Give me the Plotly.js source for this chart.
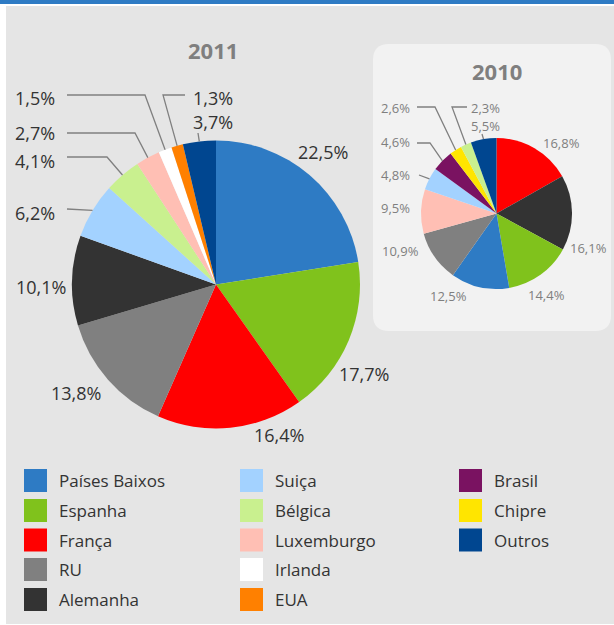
<!DOCTYPE html>
<html>
<head>
<meta charset="utf-8">
<script src="https://cdn.plot.ly/plotly-3.0.1.min.js"></script>
<style>html,body{margin:0;padding:0;background:#fff;}#chart{width:614px;height:625px;}</style>
</head>
<body>
<div id="chart"></div>
<script>
// ---------------- DATA ----------------
const labels2011 = ["Países Baixos","Espanha","França","RU","Alemanha","Suiça","Bélgica","Luxemburgo","Irlanda","EUA","Outros"];
const values2011 = [22.5,17.7,16.4,13.8,10.1,6.2,4.1,2.7,1.5,1.3,3.7];
const labels2010 = ["França","Alemanha","Espanha","Países Baixos","RU","Luxemburgo","Suiça","Brasil","Chipre","Bélgica","Outros"];
const values2010 = [16.8,16.1,14.4,12.5,10.9,9.5,4.8,4.6,2.6,2.3,5.5];
const legendCategories = ["Países Baixos","Espanha","França","RU","Alemanha","Suiça","Bélgica","Luxemburgo","Irlanda","EUA","Brasil","Chipre","Outros"];
const legendColours = ["#2e7bc4","#80c21c","#ff0000","#808080","#333333","#a3d2ff","#c9f08f","#ffbfb4","#ffffff","#ff8000","#7a1261","#ffe500","#004690"];
const titles = ["2011","2010"];

// ---------------- LAYOUT HELPERS ----------------
const W = 614, H = 625;
const X = px => px / W;
const Y = py => 1 - py / H;
const colourOf = {};
legendCategories.forEach((c, i) => colourOf[c] = legendColours[i]);
const fmt = v => v.toFixed(1).replace('.', ',') + '%';

// pie geometry (pixels)
const pies = [
  {labels: labels2011, values: values2011, cx: 216, cy: 284.5, r: 144,
   font: {family: "Open Sans", size: 18, color: "#333333"},
   title: {x: 213, y: 50},
   labelPos: [[323,152],[364,374],[279,435],[76,393],[41,287],[35,213],[35,161],[35,133],[35,98],[213,98],[213,122]],
   leaders: [ // [sliceIndex, startX, startY, elbowX|null]
     [8, 67, 95, 145], [9, 185, 95, 163], [10, 198, 133, null],
     [7, 67, 133, 135], [6, 67, 157, 107], [5, 67, 209, null]]},
  {labels: labels2010, values: values2010, cx: 496.5, cy: 213.5, r: 75.5,
   font: {family: "Open Sans", size: 13, color: "#7f7f7f"},
   title: {x: 497, y: 71},
   labelPos: [[561,143],[588,248],[546,295],[448,296],[400,251],[396,208],[396,175],[396,142],[396,108],[485,108],[485,126]],
   leaders: [
     [8, 417, 107, 435], [9, 467, 107, 452], [10, 482, 134, null],
     [7, 417, 143, 430], [6, 419, 175, null]]}
];

const traces = [];
const annotations = [];
const shapes = [];

// backgrounds
shapes.push({type: 'rect', xref: 'paper', yref: 'paper', x0: 0, x1: 1, y0: Y(0), y1: Y(4),
             fillcolor: '#2e7bc4', line: {width: 0}, layer: 'below'});
shapes.push({type: 'rect', xref: 'paper', yref: 'paper', x0: X(6), x1: 1, y0: Y(6), y1: Y(624),
             fillcolor: '#e5e5e5', line: {width: 0}, layer: 'below'});
// rounded panel behind 2010 pie
(function () {
  const x0 = 373, x1 = 611, y0 = 44, y1 = 331, rr = 16;
  const p = (x, y) => X(x) + ',' + Y(y);
  const path = 'M ' + p(x0 + rr, y0) + ' L ' + p(x1 - rr, y0) + ' Q ' + p(x1, y0) + ' ' + p(x1, y0 + rr) +
    ' L ' + p(x1, y1 - rr) + ' Q ' + p(x1, y1) + ' ' + p(x1 - rr, y1) +
    ' L ' + p(x0 + rr, y1) + ' Q ' + p(x0, y1) + ' ' + p(x0, y1 - rr) +
    ' L ' + p(x0, y0 + rr) + ' Q ' + p(x0, y0) + ' ' + p(x0 + rr, y0) + ' Z';
  shapes.push({type: 'path', xref: 'paper', yref: 'paper', path: path,
               fillcolor: '#f2f2f2', line: {width: 0}, layer: 'below'});
})();

pies.forEach((pie, k) => {
  traces.push({
    type: 'pie', labels: pie.labels, values: pie.values,
    marker: {colors: pie.labels.map(l => colourOf[l]), line: {width: 0}},
    sort: false, direction: 'clockwise', rotation: 0,
    textinfo: 'none', hoverinfo: 'none', showlegend: false,
    domain: {x: [X(pie.cx - pie.r), X(pie.cx + pie.r)], y: [Y(pie.cy + pie.r), Y(pie.cy - pie.r)]}
  });
  // title
  annotations.push({xref: 'paper', yref: 'paper', x: X(pie.title.x), y: Y(pie.title.y),
    xanchor: 'center', yanchor: 'middle', showarrow: false, text: '<b>' + titles[k] + '</b>',
    font: {family: 'Open Sans', size: 22, color: '#7f7f7f'}});
  // value labels
  const total = pie.values.reduce((a, b) => a + b, 0);
  const mids = [];
  let cum = 0;
  pie.values.forEach(v => { mids.push((cum + v / 2) / total * 2 * Math.PI); cum += v; });
  pie.values.forEach((v, i) => {
    annotations.push({xref: 'paper', yref: 'paper', x: X(pie.labelPos[i][0]), y: Y(pie.labelPos[i][1]),
      xanchor: 'center', yanchor: 'middle', showarrow: false, text: fmt(v), font: pie.font});
  });
  // leader lines
  pie.leaders.forEach(([i, sx, sy, ex]) => {
    const rx = pie.cx + pie.r * Math.sin(mids[i]);
    const ry = pie.cy - pie.r * Math.cos(mids[i]);
    let path = 'M ' + X(sx) + ',' + Y(sy);
    if (ex !== null) path += ' L ' + X(ex) + ',' + Y(sy);
    path += ' L ' + X(rx) + ',' + Y(ry);
    shapes.push({type: 'path', xref: 'paper', yref: 'paper', path: path,
                 line: {color: '#808080', width: 1.3}, layer: 'above'});
  });
});

// legend (column-major, 5 rows)
const colX = [24, 240, 459], rowY = [480.5, 510.5, 540, 569.5, 599.5], sw = 23;
legendCategories.forEach((c, i) => {
  const col = Math.floor(i / 5), row = i % 5;
  const x = colX[col], y = rowY[row];
  shapes.push({type: 'rect', xref: 'paper', yref: 'paper', x0: X(x), x1: X(x + sw), y0: Y(y + sw / 2), y1: Y(y - sw / 2),
               fillcolor: legendColours[i], line: {width: 0}, layer: 'above'});
  annotations.push({xref: 'paper', yref: 'paper', x: X(x + 33), y: Y(y), xanchor: 'left', yanchor: 'middle',
    showarrow: false, text: c, font: {family: 'Open Sans', size: 17, color: '#333333'}});
});

const layout = {
  width: W, height: H, margin: {l: 0, r: 0, t: 0, b: 0, pad: 0},
  paper_bgcolor: '#ffffff', plot_bgcolor: '#ffffff',
  showlegend: false, shapes: shapes, annotations: annotations,
  font: {family: 'Open Sans'}
};
Plotly.newPlot('chart', traces, layout, {displayModeBar: false, staticPlot: true});
</script>
</body>
</html>
